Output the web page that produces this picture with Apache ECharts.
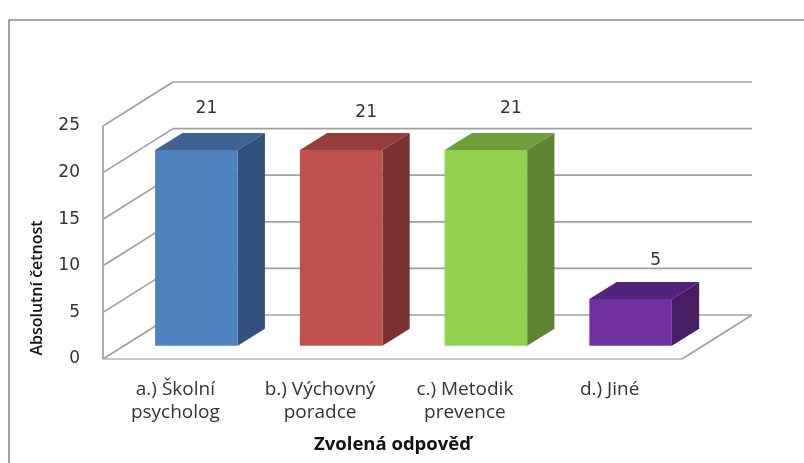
<!DOCTYPE html>
<html>
<head>
<meta charset="utf-8">
<style>html,body{margin:0;padding:0;background:#fff}#main{width:804px;height:463px}</style>
<script src="https://cdn.jsdelivr.net/npm/echarts@6/dist/echarts.min.js"></script>
</head>
<body>
<div id="main"></div>
<script>
var categories = ['a.) Školní\npsycholog', 'b.) Výchovný\nporadce', 'c.) Metodik\nprevence', 'd.) Jiné'];
var values = [21, 21, 21, 5];
var yTicks = [0, 5, 10, 15, 20, 25];
var yTitle = 'Absolutní četnost';
var xTitle = 'Zvolená odpověď';

// front, top, side shade of each bar
var frontColors = ['#4f81bd', '#c0504d', '#92d050', '#7030a0'];
var topColors = ['#3f6492', '#943f3c', '#6f9e3d', '#532279'];
var sideColors = ['#30527a', '#7a3230', '#5c8435', '#461e64'];
// the first label sits further left in the original, the second a little lower
var labelNudge = [[-15, 1], [0, 5], [0, 1], [0, 3]];

var wallDx = 70, wallDy = -44;   // depth of the floor
var insetDx = 21, insetDy = -13.3; // bar front plane behind the axis
var barDx = 27.3, barDy = -17;   // depth of a bar
var lineColor = '#a0a0a0';

function renderWall(params, api) {
    var cs = params.coordSys;
    var y = api.coord([0, api.value(1)])[1];
    var left = cs.x, right = cs.x + cs.width;
    var style = {stroke: lineColor, lineWidth: 1.7, fill: null};
    var children = [
        {type: 'line', shape: {x1: left, y1: y, x2: left + wallDx, y2: y + wallDy}, style: style},
        {type: 'line', shape: {x1: left + wallDx, y1: y + wallDy, x2: right + wallDx, y2: y + wallDy}, style: style}
    ];
    if (api.value(1) === 0) {
        children.push({type: 'line', shape: {x1: left, y1: y, x2: right, y2: y}, style: {stroke: '#b5b5b5', lineWidth: 1.7}});
        children.push({type: 'line', shape: {x1: right, y1: y, x2: right + wallDx, y2: y + wallDy}, style: style});
        children.push({type: 'line', shape: {x1: left, y1: y, x2: left, y2: cs.y}, style: style});
    }
    return {type: 'group', children: children};
}

function renderBar(params, api) {
    var i = api.value(0);
    var base = api.coord([i, 0]);
    var head = api.coord([i, api.value(1)]);
    var w = api.size([1, 0])[0] * 0.57;
    var x0 = base[0] - w / 2 + insetDx, x1 = x0 + w;
    var y0 = base[1] + insetDy, y1 = head[1] + insetDy;
    var n = params.dataIndex;
    return {type: 'group', children: [
        {type: 'polygon', shape: {points: [[x1, y1], [x1 + barDx, y1 + barDy], [x1 + barDx, y0 + barDy], [x1, y0]]},
            style: {fill: sideColors[n]}},
        {type: 'polygon', shape: {points: [[x0, y1], [x0 + barDx, y1 + barDy], [x1 + barDx, y1 + barDy], [x1, y1]]},
            style: {fill: topColors[n]}},
        {type: 'rect', shape: {x: x0, y: y1, width: w, height: y0 - y1}, style: {fill: frontColors[n]}},
        {type: 'text', style: {
            text: String(api.value(1)),
            x: x0 + w / 2 + 25 + labelNudge[n][0],
            y: y1 + barDy - 25 + labelNudge[n][1],
            textAlign: 'center', textVerticalAlign: 'middle',
            font: '17px "DejaVu Sans"', fill: '#333333'
        }}
    ]};
}

var myChart = echarts.init(document.getElementById('main'), null, {renderer: 'canvas'});
var option = {
    animation: false,
    backgroundColor: '#ffffff',
    grid: {left: 103, right: 122, top: 126, bottom: 104},
    xAxis: {
        type: 'category',
        data: categories,
        axisLine: {show: false},
        axisTick: {show: false},
        axisLabel: {margin: 19, color: '#333333', fontFamily: 'Open Sans', fontSize: 19, lineHeight: 23, interval: 0},
        name: xTitle,
        nameLocation: 'middle',
        nameGap: 76,
        nameTextStyle: {color: '#111111', fontFamily: 'Open Sans', fontWeight: 'bold', fontSize: 18.5}
    },
    yAxis: {
        type: 'value',
        min: 0,
        max: 25,
        interval: 5,
        axisLine: {show: false},
        axisTick: {show: false},
        splitLine: {show: false},
        axisLabel: {margin: 23, color: '#333333', fontFamily: 'DejaVu Sans', fontSize: 17}
    },
    graphic: [
        {type: 'polyline', shape: {points: [[9, 463], [9, 20], [804, 20]]},
            style: {stroke: '#8c8c8c', lineWidth: 1.6, fill: null}},
        {type: 'text', x: 37, y: 288, rotation: Math.PI / 2, scaleX: 0.94, scaleY: 1,
            style: {text: yTitle, font: '600 17px "Open Sans"', fill: '#111111', textAlign: 'center', textVerticalAlign: 'middle'}}
    ],
    series: [
        {type: 'custom', renderItem: renderWall, clip: false, silent: true, data: yTicks.map(function (v) { return [0, v]; })},
        {type: 'custom', renderItem: renderBar, clip: false, silent: true, data: values.map(function (v, i) { return [i, v]; })}
    ]
};
myChart.setOption(option);
window.onresize = myChart.resize;
</script>
</body>
</html>
